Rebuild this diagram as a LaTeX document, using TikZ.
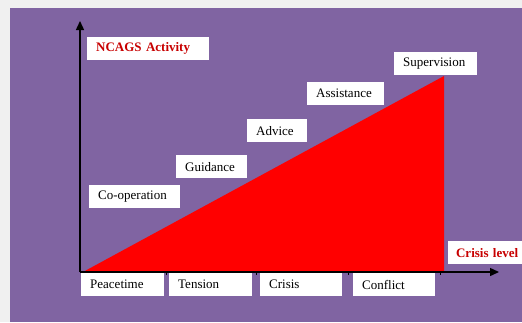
\documentclass[tikz,border=0pt]{standalone}
\usepackage{fontspec}
\setmainfont{Liberation Serif}
\usetikzlibrary{arrows.meta}
\definecolor{FrameGray}{RGB}{240,240,240}
\definecolor{PanelPurple}{RGB}{128,100,162}
\definecolor{LevelRed}{RGB}{255,0,0}
\definecolor{TitleRed}{RGB}{200,0,0}
\tikzset{
  tag/.style={fill=white, anchor=north west, align=left, inner xsep=9pt,
              inner ysep=0pt, minimum height=23pt, font=\fontsize{13}{15}\selectfont},
  title/.style={tag, text=TitleRed, font=\fontsize{13}{15}\selectfont\bfseries},
  axis/.style={-{Triangle[length=9pt,width=8pt]}, line width=1.4pt, black},
  tick/.style={line width=1pt, black}
}
\begin{document}
\begin{tikzpicture}[x=1pt,y=-1pt]
\useasboundingbox (0,0) rectangle (522,322);
\fill[FrameGray] (0,0) rectangle (522,322);
\fill[PanelPurple] (10,8) rectangle (522,322);

% rising activity
\coordinate (base) at (83,272);
\coordinate (peak) at (444,76);
\coordinate (foot) at (444,272);
\fill[LevelRed] (base) -- (peak) -- (foot) -- cycle;

% axes
\coordinate (O) at (80,272);
\coordinate (ytop) at (80,21);
\coordinate (xend) at (499,272);
\draw[axis] (O) -- (ytop);
\draw[axis] (O) -- (xend);
\foreach \tx in {166,256,348,440}
  \draw[tick] (\tx,272) -- (\tx,275);

% activity levels
\node[title, text width=104pt] (activity) at (87,37) {NCAGS Activity};
\node[tag, text width=73pt] (coop) at (89,185) {Co-operation};
\node[tag, text width=53pt] (guid) at (176,155) {Guidance};
\node[tag, text width=42pt] (advice) at (247,119) {Advice};
\node[tag, text width=59pt] (assist) at (307,82) {Assistance};
\node[tag, text width=65pt] (superv) at (394,52) {Supervision};

% crisis levels
\node[tag, text width=65pt] (peace) at (81,273) {Peacetime};
\node[tag, text width=65pt] (tension) at (169,273) {Tension};
\node[tag, text width=64pt] (crisis) at (260,273) {Crisis};
\node[tag, text width=64pt] (conflict) at (353,273) {Conflict};
\node[title, text width=66pt, inner xsep=4pt, align=right] (level) at (448,241) {Crisis level};
\end{tikzpicture}
\end{document}
